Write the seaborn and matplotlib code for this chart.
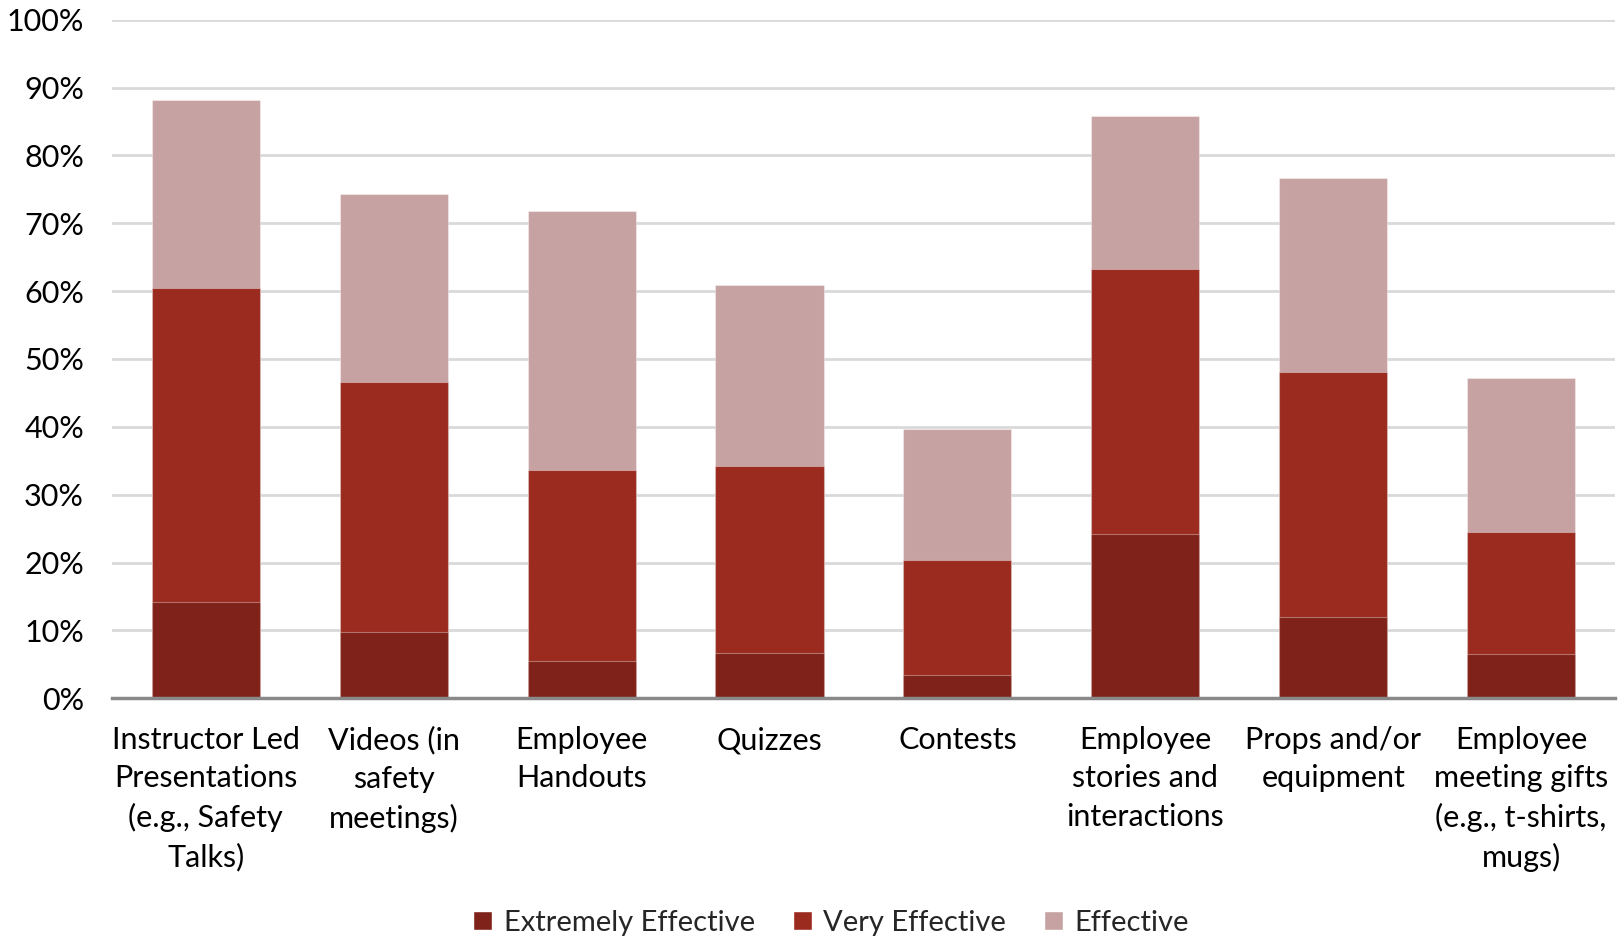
import pandas as pd
import numpy as np
import matplotlib.pyplot as plt
import seaborn as sns
from matplotlib.patches import Patch
from matplotlib.ticker import PercentFormatter

# Dữ liệu (%)
categories = ['Instructor Led\nPresentations\n(e.g., Safety\nTalks)',
              'Videos (in\nsafety\nmeetings)',
              'Employee\nHandouts',
              'Quizzes',
              'Contests',
              'Employee\nstories and\ninteractions',
              'Props and/or\nequipment',
              'Employee\nmeeting gifts\n(e.g., t-shirts,\nmugs)']
extremely = [14.2, 9.7, 5.5, 6.7, 3.5, 24.2, 12.0, 6.5]
very = [46.2, 36.9, 28.1, 27.5, 16.9, 39.1, 36.1, 18.0]
effective = [27.7, 27.7, 38.2, 26.7, 19.3, 22.5, 28.5, 22.7]

colors = {'Extremely Effective': '#7F2219',
          'Very Effective': '#9B2B1F',
          'Effective': '#C7A2A2'}

df = pd.DataFrame({'category': categories,
                   'Extremely Effective': extremely,
                   'Very Effective': very,
                   'Effective': effective})
# Cộng dồn để vẽ chồng
df['cum_extremely'] = df['Extremely Effective']
df['cum_very'] = df['cum_extremely'] + df['Very Effective']
df['cum_effective'] = df['cum_very'] + df['Effective']

sns.set_theme(style='white')
plt.rcParams['font.family'] = ['Lato', 'DejaVu Sans']

fig, ax = plt.subplots(figsize=(16.2, 9.36), dpi=100)
fig.subplots_adjust(left=0.069, right=0.997, top=0.979, bottom=0.254)

for col, name in [('cum_effective', 'Effective'),
                  ('cum_very', 'Very Effective'),
                  ('cum_extremely', 'Extremely Effective')]:
    sns.barplot(data=df, x='category', y=col, color=colors[name],
                width=0.575, saturation=1, ax=ax, zorder=3,
                edgecolor=(1, 1, 1, 0.35), linewidth=0.8)

ax.set_ylim(0, 100)
ax.set_yticks(np.arange(0, 101, 10))
ax.yaxis.set_major_formatter(PercentFormatter(decimals=0))
ax.set_xlim(-0.5, len(categories) - 0.5)
ax.grid(axis='y', color='#D9D9D9', linewidth=2, zorder=0)
ax.set_xlabel('')
ax.set_ylabel('')
ax.tick_params(axis='both', length=0, labelsize=22, colors='black')
ax.tick_params(axis='y', pad=20)
ax.tick_params(axis='x', pad=20)
for s in ['top', 'right', 'left']:
    ax.spines[s].set_visible(False)
ax.spines['bottom'].set_color('#898989')
ax.spines['bottom'].set_linewidth(2.5)
ax.spines['bottom'].set_zorder(4)
for lbl in ax.get_xticklabels():
    lbl.set_linespacing(1.45)

handles = [Patch(facecolor=colors[n], label=n) for n in colors]
fig.legend(handles=handles, loc='lower center', ncol=3, frameon=False,
           fontsize=21, bbox_to_anchor=(0.513, -0.028), handlelength=0.65,
           handleheight=0.65, handletextpad=0.4, columnspacing=1.3)

plt.savefig('out.png', dpi=100)
